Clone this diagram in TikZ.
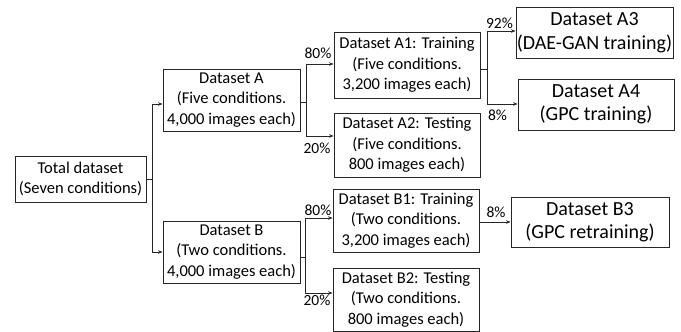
\documentclass[tikz,border=0pt]{standalone}
\usepackage{fontspec}
\setmainfont{Carlito}
\usetikzlibrary{arrows.meta}
\begin{document}
\begin{tikzpicture}[x=1pt,y=-1pt,
  box/.style={draw=black!85,line width=0.8pt,inner sep=0pt,align=center,
    font=\fontsize{16.5}{20.5}\selectfont},
  bigbox/.style={box,font=\fontsize{20}{23.5}\selectfont},
  arr/.style={draw=black!85,line width=0.8pt,-{Stealth[length=4.5pt,width=3.5pt]}},
  link/.style={draw=black!85,line width=0.8pt},
  pct/.style={inner sep=0pt,font=\fontsize{15.5}{18}\selectfont}]
\useasboundingbox (0,0) rectangle (681,332);

% source
\node[box,minimum width=131pt,minimum height=46pt] (total) at (80.5,179)
  {Total dataset\\(Seven conditions)};

% first split
\node[box,minimum width=137pt,minimum height=62pt] (a) at (231.5,100)
  {Dataset A\\(Five conditions.\\4,000 images each)};
\node[box,minimum width=137pt,minimum height=62pt] (b) at (231.5,252)
  {Dataset B\\(Two conditions.\\4,000 images each)};

% training / testing splits
\node[box,minimum width=146pt,minimum height=66pt] (a1) at (407,65)
  {Dataset A1: Training\\(Five conditions.\\3,200 images each)};
\node[box,minimum width=146pt,minimum height=64pt] (a2) at (407,145)
  {Dataset A2: Testing\\(Five conditions.\\800 images each)};
\node[box,minimum width=146pt,minimum height=63pt] (b1) at (406,220.5)
  {Dataset B1: Training\\(Two conditions.\\3,200 images each)};
\node[box,minimum width=146pt,minimum height=63pt] (b2) at (406,299.5)
  {Dataset B2: Testing\\(Two conditions.\\800 images each)};

% final subsets
\node[bigbox,minimum width=157pt,minimum height=51pt] (a3) at (594.5,32.5)
  {Dataset A3\\(DAE-GAN training)};
\node[bigbox,minimum width=156pt,minimum height=51pt] (a4) at (596,104.5)
  {Dataset A4\\(GPC training)};
\node[bigbox,minimum width=158pt,minimum height=50pt] (b3) at (590,222)
  {Dataset B3\\(GPC retraining)};

% branch points
\coordinate (j0) at (152,179);
\coordinate (j1) at (306,102);
\coordinate (j2) at (305,257);
\coordinate (j3) at (487,69);

% total -> A, B
\draw[link] (total.east) -- (j0);
\draw[arr] (j0) |- ([yshift=-4pt]a.west);
\draw[arr] (j0) |- (b.west);

% A -> A1, A2
\draw[link] ([yshift=-2pt]a.east) -- (j1);
\draw[arr] (j1) |- ([yshift=1pt]a1.west);
\draw[arr] (j1) |- ([yshift=9pt]a2.west);

% B -> B1, B2
\draw[link] ([yshift=-5pt]b.east) -- (j2);
\draw[arr] (j2) |- ([yshift=2.5pt]b1.west);
\draw[arr] (j2) |- ([yshift=6.5pt]b2.west);

% A1 -> A3, A4
\draw[link] ([yshift=-4pt]a1.east) -- (j3);
\draw[arr] (j3) |- ([yshift=1.5pt]a3.west);
\draw[arr] (j3) |- ([yshift=0.5pt]a4.west);

% B1 -> B3
\draw[arr] ([yshift=-1.5pt]b1.east) -- (b3.west);

% split ratios
\node[pct] (p1) at (318,53) {80\%};
\node[pct] (p2) at (317,148) {20\%};
\node[pct] (p3) at (318,210) {80\%};
\node[pct] (p4) at (317,300) {20\%};
\node[pct] (p5) at (499.5,23) {92\%};
\node[pct] (p6) at (497.5,115) {8\%};
\node[pct] (p7) at (496,212) {8\%};
\end{tikzpicture}
\end{document}
